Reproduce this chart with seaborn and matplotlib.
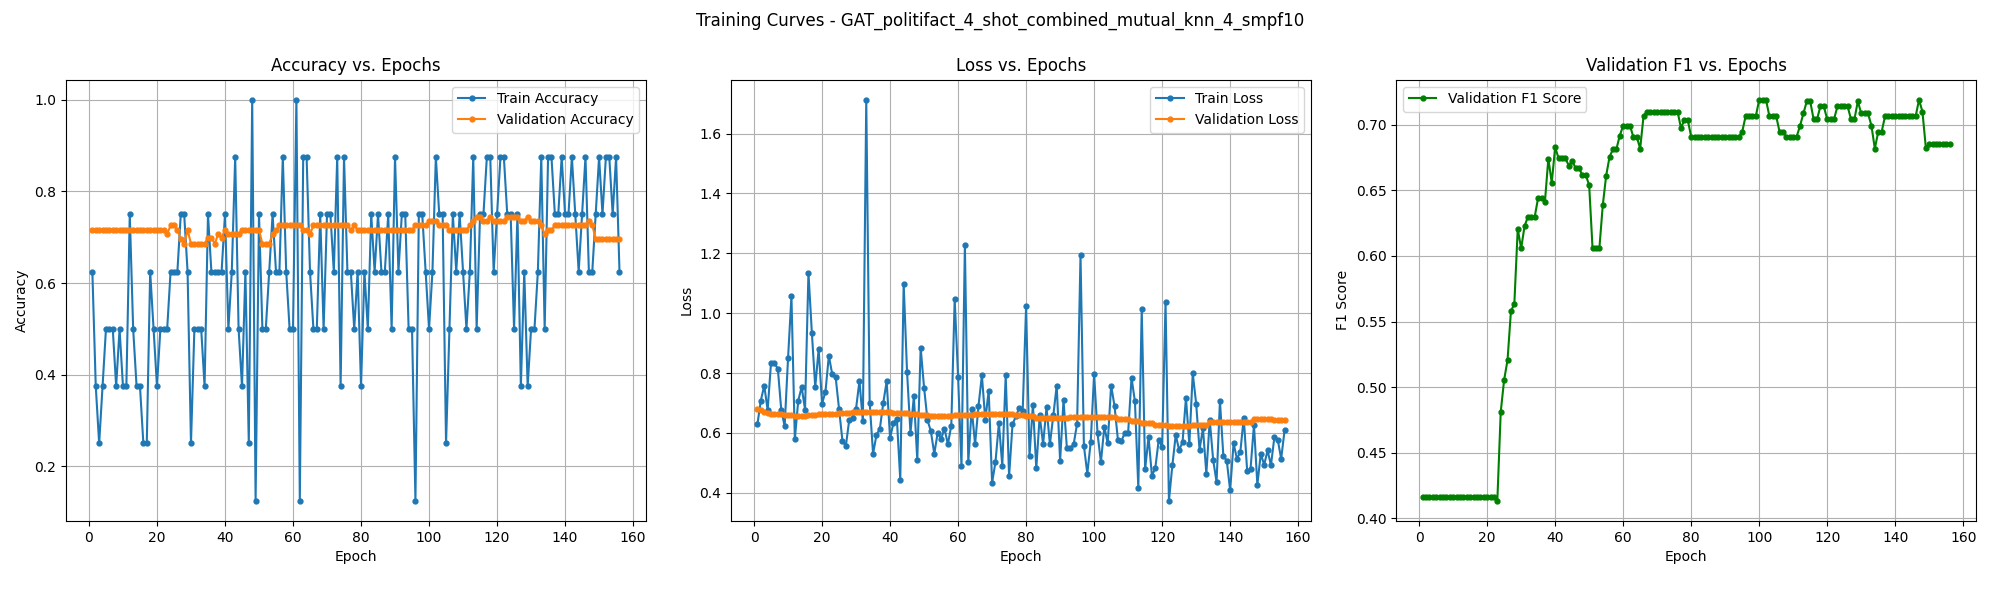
import numpy as np
import pandas as pd
import seaborn as sns
import matplotlib
matplotlib.use("Agg")
import matplotlib.pyplot as plt

run_name = "GAT_politifact_4_shot_combined_mutual_knn_4_smpf10"

train_acc = [
    0.625, 0.375, 0.25, 0.375, 0.5, 0.5, 0.5, 0.375, 0.5, 0.375,
    0.375, 0.75, 0.5, 0.375, 0.375, 0.25, 0.25, 0.625, 0.5, 0.375,
    0.5, 0.5, 0.5, 0.625, 0.625, 0.625, 0.75, 0.75, 0.625, 0.25,
    0.5, 0.5, 0.5, 0.375, 0.75, 0.625, 0.625, 0.625, 0.625, 0.75,
    0.5, 0.625, 0.875, 0.5, 0.375, 0.625, 0.25, 1.0, 0.125, 0.75,
    0.5, 0.5, 0.625, 0.75, 0.625, 0.625, 0.875, 0.625, 0.5, 0.5,
    1.0, 0.125, 0.875, 0.875, 0.625, 0.5, 0.5, 0.75, 0.5, 0.75,
    0.75, 0.625, 0.875, 0.375, 0.875, 0.625, 0.625, 0.5, 0.625, 0.375,
    0.625, 0.5, 0.75, 0.625, 0.75, 0.625, 0.625, 0.75, 0.5, 0.875,
    0.625, 0.75, 0.75, 0.5, 0.5, 0.125, 0.75, 0.75, 0.625, 0.5,
    0.625, 0.875, 0.75, 0.75, 0.25, 0.5, 0.75, 0.625, 0.75, 0.625,
    0.5, 0.625, 0.875, 0.5, 0.75, 0.75, 0.875, 0.875, 0.625, 0.75,
    0.875, 0.875, 0.75, 0.75, 0.5, 0.75, 0.375, 0.625, 0.375, 0.5,
    0.5, 0.625, 0.875, 0.5, 0.875, 0.875, 0.75, 0.75, 0.875, 0.75,
    0.75, 0.875, 0.75, 0.625, 0.75, 0.875, 0.625, 0.625, 0.75, 0.875,
    0.75, 0.875, 0.875, 0.75, 0.875, 0.625,
]

val_acc = [
    0.716, 0.716, 0.716, 0.716, 0.716, 0.716, 0.716, 0.716, 0.716, 0.716,
    0.716, 0.716, 0.716, 0.716, 0.716, 0.716, 0.716, 0.716, 0.716, 0.716,
    0.716, 0.716, 0.707, 0.726, 0.726, 0.716, 0.697, 0.686, 0.716, 0.686,
    0.686, 0.686, 0.686, 0.686, 0.699, 0.699, 0.686, 0.707, 0.699, 0.716,
    0.707, 0.707, 0.707, 0.707, 0.716, 0.716, 0.716, 0.716, 0.716, 0.716,
    0.686, 0.686, 0.686, 0.707, 0.716, 0.726, 0.726, 0.726, 0.726, 0.726,
    0.726, 0.726, 0.716, 0.716, 0.707, 0.726, 0.726, 0.726, 0.726, 0.726,
    0.726, 0.726, 0.726, 0.726, 0.726, 0.726, 0.716, 0.726, 0.716, 0.716,
    0.716, 0.716, 0.716, 0.716, 0.716, 0.716, 0.716, 0.716, 0.716, 0.716,
    0.716, 0.716, 0.716, 0.716, 0.716, 0.726, 0.726, 0.726, 0.726, 0.735,
    0.735, 0.735, 0.726, 0.726, 0.726, 0.716, 0.716, 0.716, 0.716, 0.716,
    0.716, 0.726, 0.735, 0.745, 0.745, 0.735, 0.735, 0.745, 0.735, 0.735,
    0.735, 0.735, 0.745, 0.745, 0.745, 0.745, 0.735, 0.735, 0.745, 0.735,
    0.735, 0.735, 0.726, 0.707, 0.716, 0.716, 0.726, 0.726, 0.726, 0.726,
    0.726, 0.726, 0.726, 0.726, 0.726, 0.726, 0.735, 0.726, 0.697, 0.697,
    0.697, 0.697, 0.697, 0.697, 0.697, 0.697,
]

train_loss = [
    0.629, 0.708, 0.758, 0.676, 0.835, 0.833, 0.814, 0.677, 0.622, 0.849,
    1.057, 0.579, 0.708, 0.753, 0.678, 1.135, 0.935, 0.753, 0.880, 0.698,
    0.737, 0.858, 0.795, 0.786, 0.679, 0.573, 0.556, 0.644, 0.650, 0.681,
    0.774, 0.638, 1.713, 0.701, 0.530, 0.593, 0.614, 0.700, 0.772, 0.583,
    0.633, 0.647, 0.443, 1.097, 0.802, 0.600, 0.722, 0.509, 0.884, 0.751,
    0.643, 0.605, 0.530, 0.600, 0.579, 0.614, 0.562, 0.624, 1.047, 0.788,
    0.488, 1.228, 0.502, 0.681, 0.562, 0.690, 0.792, 0.643, 0.741, 0.433,
    0.503, 0.633, 0.490, 0.793, 0.455, 0.628, 0.656, 0.683, 0.674, 1.023,
    0.523, 0.694, 0.481, 0.658, 0.562, 0.685, 0.562, 0.658, 0.758, 0.506,
    0.709, 0.548, 0.548, 0.563, 0.631, 1.194, 0.556, 0.464, 0.569, 0.797,
    0.598, 0.502, 0.620, 0.565, 0.758, 0.690, 0.576, 0.572, 0.600, 0.600,
    0.784, 0.705, 0.415, 1.013, 0.478, 0.586, 0.456, 0.483, 0.577, 0.552,
    1.036, 0.373, 0.491, 0.593, 0.542, 0.569, 0.716, 0.562, 0.799, 0.698,
    0.544, 0.615, 0.464, 0.643, 0.510, 0.436, 0.706, 0.523, 0.507, 0.408,
    0.565, 0.513, 0.537, 0.651, 0.473, 0.480, 0.627, 0.426, 0.530, 0.493,
    0.541, 0.492, 0.585, 0.577, 0.513, 0.608,
]

val_loss = [
    0.679, 0.676, 0.671, 0.667, 0.664, 0.664, 0.664, 0.664, 0.660, 0.660,
    0.660, 0.657, 0.657, 0.657, 0.657, 0.659, 0.659, 0.659, 0.663, 0.663,
    0.663, 0.663, 0.663, 0.663, 0.665, 0.665, 0.665, 0.665, 0.669, 0.669,
    0.669, 0.669, 0.669, 0.669, 0.669, 0.669, 0.669, 0.669, 0.669, 0.669,
    0.666, 0.666, 0.666, 0.666, 0.666, 0.662, 0.662, 0.662, 0.658, 0.658,
    0.658, 0.655, 0.655, 0.655, 0.655, 0.657, 0.657, 0.657, 0.660, 0.660,
    0.660, 0.660, 0.660, 0.660, 0.663, 0.663, 0.663, 0.663, 0.663, 0.663,
    0.663, 0.663, 0.663, 0.663, 0.663, 0.663, 0.659, 0.659, 0.659, 0.656,
    0.656, 0.656, 0.650, 0.650, 0.650, 0.650, 0.650, 0.650, 0.650, 0.650,
    0.650, 0.650, 0.652, 0.652, 0.652, 0.652, 0.652, 0.652, 0.652, 0.652,
    0.652, 0.652, 0.652, 0.652, 0.652, 0.652, 0.647, 0.647, 0.647, 0.647,
    0.641, 0.641, 0.641, 0.633, 0.633, 0.633, 0.633, 0.627, 0.627, 0.627,
    0.627, 0.622, 0.622, 0.622, 0.622, 0.622, 0.622, 0.622, 0.627, 0.627,
    0.627, 0.627, 0.627, 0.635, 0.635, 0.635, 0.635, 0.635, 0.635, 0.635,
    0.635, 0.635, 0.635, 0.635, 0.635, 0.635, 0.647, 0.647, 0.647, 0.647,
    0.647, 0.647, 0.644, 0.644, 0.644, 0.644,
]

val_f1 = [
    0.4167, 0.4167, 0.4167, 0.4167, 0.4167, 0.4167, 0.4167, 0.4167, 0.4167, 0.4167,
    0.4167, 0.4167, 0.4167, 0.4167, 0.4167, 0.4167, 0.4167, 0.4167, 0.4167, 0.4167,
    0.4167, 0.4167, 0.4135, 0.4812, 0.5056, 0.5206, 0.5579, 0.5635, 0.6206, 0.6056,
    0.6225, 0.6299, 0.6299, 0.6299, 0.6442, 0.6442, 0.6413, 0.6741, 0.6556, 0.6828,
    0.6743, 0.6743, 0.6743, 0.6688, 0.6722, 0.6669, 0.6669, 0.6614, 0.6614, 0.6540,
    0.6056, 0.6056, 0.6056, 0.6384, 0.6611, 0.6754, 0.6812, 0.6812, 0.6915, 0.6992,
    0.6992, 0.6992, 0.6905, 0.6905, 0.6817, 0.7066, 0.7098, 0.7098, 0.7098, 0.7098,
    0.7098, 0.7098, 0.7098, 0.7098, 0.7098, 0.7098, 0.6974, 0.7034, 0.7034, 0.6907,
    0.6907, 0.6907, 0.6907, 0.6907, 0.6907, 0.6907, 0.6907, 0.6907, 0.6907, 0.6907,
    0.6907, 0.6907, 0.6907, 0.6907, 0.6944, 0.7063, 0.7063, 0.7063, 0.7063, 0.7188,
    0.7188, 0.7188, 0.7063, 0.7063, 0.7063, 0.6944, 0.6944, 0.6907, 0.6907, 0.6907,
    0.6907, 0.6989, 0.7085, 0.7177, 0.7177, 0.7040, 0.7040, 0.7138, 0.7138, 0.7040,
    0.7040, 0.7040, 0.7138, 0.7138, 0.7138, 0.7138, 0.7040, 0.7040, 0.7177, 0.7085,
    0.7085, 0.7085, 0.6992, 0.6817, 0.6944, 0.6944, 0.7063, 0.7063, 0.7063, 0.7063,
    0.7063, 0.7063, 0.7063, 0.7063, 0.7063, 0.7063, 0.7188, 0.7098, 0.6823, 0.6849,
    0.6849, 0.6849, 0.6849, 0.6849, 0.6849, 0.6849,
]

for s in (train_acc, val_acc, train_loss, val_loss, val_f1):
    assert len(s) == 156, len(s)

epochs = np.arange(1, len(train_acc) + 1)


def draw(ax, y, label, color):
    sns.lineplot(x=epochs, y=y, ax=ax, label=label, color=color,
                 marker="o", markersize=3.5, markeredgecolor=color,
                 markeredgewidth=1.0, linewidth=1.5)


fig, axes = plt.subplots(1, 3, figsize=(20, 6), dpi=100)

ax = axes[0]
draw(ax, train_acc, "Train Accuracy", "#1f77b4")
draw(ax, val_acc, "Validation Accuracy", "#ff7f0e")
ax.set_title("Accuracy vs. Epochs")
ax.set_xlabel("Epoch")
ax.set_ylabel("Accuracy")
ax.legend(loc="upper right")
ax.grid(True)

ax = axes[1]
draw(ax, train_loss, "Train Loss", "#1f77b4")
draw(ax, val_loss, "Validation Loss", "#ff7f0e")
ax.set_title("Loss vs. Epochs")
ax.set_xlabel("Epoch")
ax.set_ylabel("Loss")
ax.legend(loc="upper right")
ax.grid(True)

ax = axes[2]
draw(ax, val_f1, "Validation F1 Score", "green")
ax.set_title("Validation F1 vs. Epochs")
ax.set_xlabel("Epoch")
ax.set_ylabel("F1 Score")
ax.legend(loc="upper left")
ax.grid(True)

for ax in axes:
    ax.set_xticks([0, 20, 40, 60, 80, 100, 120, 140, 160])

fig.suptitle("Training Curves - " + run_name, fontsize=12)
fig.subplots_adjust(left=0.033, right=0.988, top=0.867, bottom=0.132, wspace=0.147)
fig.savefig("out.png", dpi=100)
